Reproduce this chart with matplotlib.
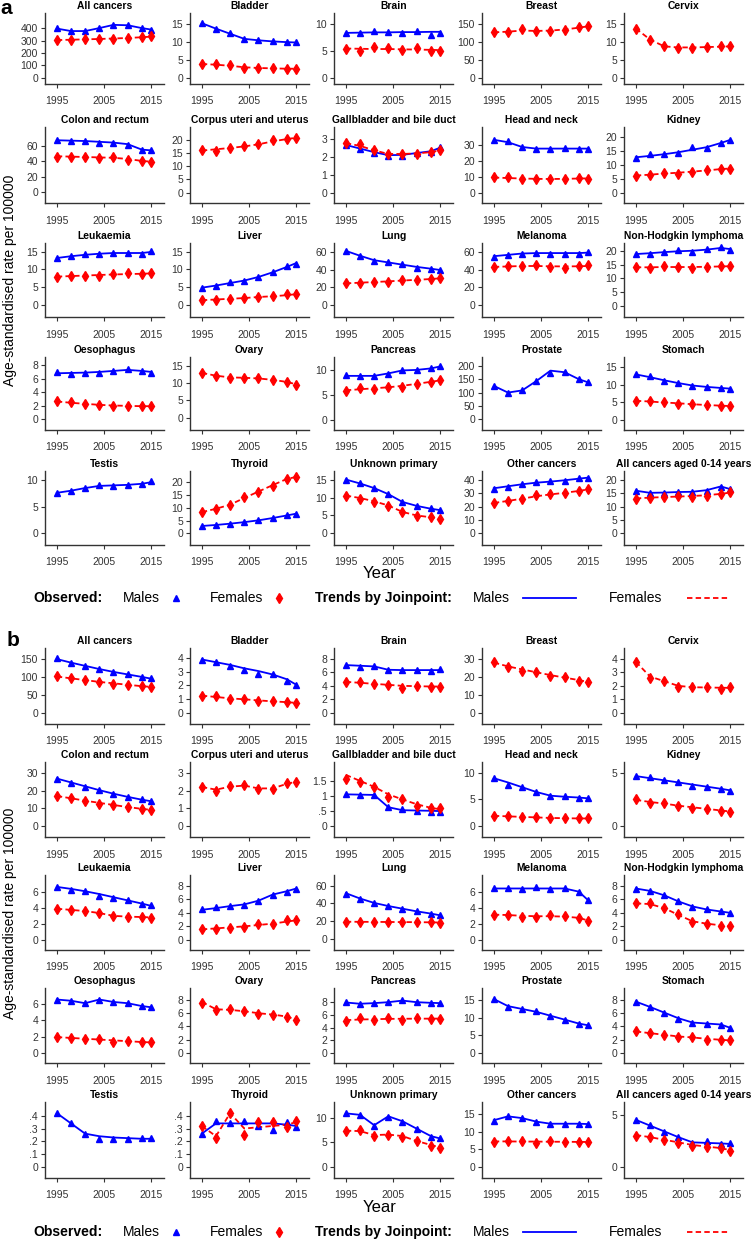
import matplotlib
matplotlib.use("Agg")
import matplotlib.pyplot as plt
from matplotlib.lines import Line2D

plt.rcParams['font.family'] = ['Liberation Sans', 'DejaVu Sans']

years = [1995, 1998, 2001, 2004, 2007, 2010, 2013, 2015]

sites = ["All cancers", "Bladder", "Brain", "Breast", "Cervix",
         "Colon and rectum", "Corpus uteri and uterus", "Gallbladder and bile duct", "Head and neck", "Kidney",
         "Leukaemia", "Liver", "Lung", "Melanoma", "Non-Hodgkin lymphoma",
         "Oesophagus", "Ovary", "Pancreas", "Prostate", "Stomach",
         "Testis", "Thyroid", "Unknown primary", "Other cancers", "All cancers aged 0-14 years"]

# ---- panel a : observed + joinpoint fitted, males
a_male_obs = [
    [400, 375, 375, 400, 430, 425, 400, 390],
    [15.2, 13.4, 12.4, 10.8, 10.4, 10.1, 10.0, 9.8],
    [8.4, 8.3, 8.7, 8.5, 8.4, 8.7, 8.0, 8.4],
    None, None,
    [67, 66, 66, 64, 64, 61, 54, 54],
    None,
    [2.65, 2.45, 2.2, 2.05, 2.05, 2.2, 2.25, 2.55],
    [33, 32, 28.5, 27.5, 27.3, 28, 27.5, 27.5],
    [12.5, 13.8, 13.8, 14.3, 16.2, 15.9, 17.8, 18.8],
    [13.2, 13.7, 14.3, 14.4, 14.7, 14.6, 14.3, 15.1],
    [4.9, 5.5, 6.4, 6.9, 8.0, 9.3, 10.9, 11.6],
    [61, 55, 50, 48, 46, 42, 41, 40],
    [54, 56, 58, 59, 58, 58, 58, 60],
    [18.8, 18.9, 19.7, 20.1, 19.7, 20.6, 21.5, 20.3],
    [7.0, 6.7, 6.9, 6.9, 7.2, 7.4, 7.1, 6.9],
    None,
    [8.9, 8.8, 8.7, 9.2, 9.9, 9.9, 10.3, 10.7],
    [125, 100, 108, 143, 175, 178, 152, 138],
    [13.0, 12.4, 11.2, 10.4, 9.6, 9.4, 9.2, 8.9],
    [7.6, 8.0, 8.6, 9.0, 8.9, 9.1, 9.3, 9.8],
    [2.8, 3.4, 3.7, 4.3, 5.1, 6.0, 7.2, 7.6],
    [15.0, 14.1, 12.6, 10.9, 8.8, 7.6, 7.0, 6.5],
    [33.5, 35, 37, 38.5, 39, 39.5, 41.5, 41.5],
    [16.0, 15.0, 15.2, 15.6, 15.5, 15.9, 17.3, 16.5],
]
a_male_fit = [
    [398, 378, 378, 402, 428, 425, 402, 390],
    [15.1, 13.6, 12.2, 10.8, 10.4, 10.1, 9.9, 9.8],
    [8.4, 8.45, 8.5, 8.5, 8.55, 8.55, 8.6, 8.6],
    None, None,
    [67, 66.5, 66, 65, 64, 62, 55, 54],
    None,
    [2.65, 2.45, 2.25, 2.08, 2.1, 2.2, 2.3, 2.5],
    [33, 31.5, 28.5, 27.5, 27.5, 27.5, 27.5, 27.5],
    [12.6, 13.1, 13.7, 14.4, 15.3, 16.2, 17.7, 18.8],
    [13.2, 13.7, 14.1, 14.4, 14.6, 14.6, 14.6, 14.9],
    [4.9, 5.5, 6.2, 6.9, 7.9, 9.2, 10.7, 11.8],
    [61, 55.5, 50.5, 48, 45.5, 43, 41, 39.5],
    [55, 56.5, 58, 58.5, 58.5, 58.5, 58.5, 59],
    [18.8, 19.1, 19.5, 19.8, 20.0, 20.4, 21.0, 20.6],
    [6.8, 6.85, 6.9, 7.0, 7.15, 7.3, 7.15, 7.0],
    None,
    [8.8, 8.8, 8.8, 9.3, 9.9, 10.0, 10.3, 10.7],
    [125, 100, 108, 143, 182, 176, 150, 138],
    [13.0, 12.2, 11.3, 10.5, 9.8, 9.4, 9.1, 8.9],
    [7.6, 8.0, 8.5, 8.9, 9.0, 9.1, 9.3, 9.6],
    [2.9, 3.3, 3.8, 4.4, 5.1, 6.0, 7.0, 7.7],
    [15.1, 14.0, 12.7, 11.0, 8.8, 7.7, 6.9, 6.5],
    [33.8, 35.3, 36.8, 38, 38.8, 39.8, 41, 41.8],
    [16.0, 15.2, 15.3, 15.5, 15.6, 16.2, 17.6, 16.6],
]
# panel a females
a_female_obs = [
    [305, 305, 315, 310, 315, 320, 330, 335],
    [3.8, 3.8, 3.6, 2.9, 2.7, 2.7, 2.6, 2.6],
    [5.4, 5.0, 5.7, 5.5, 5.3, 5.6, 5.1, 5.1],
    [127, 128, 135, 130, 131, 134, 141, 144],
    [13.7, 10.5, 8.8, 8.4, 8.4, 8.5, 8.9, 8.8],
    [46, 46, 45, 44, 45, 42, 40, 39],
    [16.2, 16.0, 17.0, 17.7, 18.4, 19.9, 20.5, 20.8],
    [2.75, 2.7, 2.35, 2.15, 2.15, 2.15, 2.25, 2.35],
    [9.5, 9.5, 8.8, 8.4, 8.2, 8.6, 9.0, 8.8],
    [6.1, 6.4, 6.9, 6.8, 7.4, 7.9, 8.6, 8.6],
    [8.0, 8.1, 8.3, 8.3, 8.6, 8.9, 8.7, 8.9],
    [1.4, 1.5, 1.8, 2.1, 2.3, 2.5, 3.0, 3.1],
    [24.5, 25, 25.5, 26.5, 28, 28.5, 29.5, 30.5],
    [42.5, 44, 44.5, 45.5, 43, 42, 43.5, 45],
    [14.1, 13.7, 14.3, 14.0, 13.8, 14.0, 14.4, 14.5],
    [2.7, 2.5, 2.3, 2.1, 1.95, 2.0, 1.95, 1.95],
    [12.9, 12.1, 11.4, 11.5, 11.4, 10.8, 10.4, 9.5],
    [5.8, 6.3, 6.2, 6.5, 6.6, 7.2, 7.6, 8.0],
    None,
    [5.4, 5.2, 5.0, 4.6, 4.5, 4.1, 4.0, 4.0],
    None,
    [8.5, 9.5, 11.2, 14.2, 16.0, 18.5, 21.0, 21.8],
    [10.5, 9.7, 8.9, 7.8, 5.9, 4.9, 4.7, 4.0],
    [22.5, 24.5, 25.5, 28.5, 29.5, 30, 32, 33],
    [13.0, 13.3, 13.7, 13.9, 13.8, 14.1, 14.8, 15.5],
]
a_female_fit = [
    [305, 308, 311, 314, 318, 322, 328, 333],
    [3.9, 3.7, 3.4, 3.0, 2.8, 2.7, 2.6, 2.6],
    [5.5, 5.45, 5.4, 5.4, 5.35, 5.3, 5.25, 5.2],
    [127, 129, 132, 131, 132, 135, 140, 144],
    [13.8, 10.7, 8.8, 8.5, 8.5, 8.6, 8.7, 8.8],
    [46.5, 46, 45.5, 45, 44.5, 43, 40.5, 39.5],
    [16.0, 16.5, 17.0, 17.6, 18.4, 19.5, 20.4, 20.9],
    [2.75, 2.6, 2.35, 2.15, 2.15, 2.18, 2.25, 2.35],
    [9.4, 9.1, 8.8, 8.6, 8.5, 8.6, 8.8, 8.9],
    [6.1, 6.4, 6.8, 7.1, 7.5, 7.9, 8.4, 8.6],
    [8.0, 8.15, 8.3, 8.45, 8.6, 8.7, 8.8, 8.9],
    [1.4, 1.6, 1.8, 2.0, 2.3, 2.5, 2.8, 3.1],
    [24.5, 25.3, 26, 26.8, 27.7, 28.5, 29.4, 30.2],
    [43, 43.5, 44, 44, 43.7, 43.5, 43.7, 44],
    [14.0, 14.0, 14.1, 14.1, 14.1, 14.2, 14.3, 14.4],
    [2.65, 2.45, 2.3, 2.15, 2.05, 2.0, 1.95, 1.95],
    [12.9, 12.1, 11.6, 11.5, 11.3, 10.9, 10.3, 9.6],
    [5.9, 6.1, 6.3, 6.5, 6.8, 7.2, 7.6, 7.9],
    None,
    [5.4, 5.2, 4.9, 4.7, 4.4, 4.2, 4.0, 3.9],
    None,
    [8.3, 9.6, 11.2, 13.8, 16.3, 18.8, 21.2, 22.0],
    [10.6, 9.9, 9.0, 7.8, 6.0, 5.0, 4.5, 4.1],
    [22.8, 24.3, 26, 27.8, 29.2, 30.4, 31.8, 33],
    [13.1, 13.4, 13.6, 13.8, 14.0, 14.3, 14.8, 15.3],
]

# ---- panel b : males
b_male_obs = [
    [152, 140, 130, 122, 113, 108, 100, 96],
    [3.85, 3.7, 3.45, 3.15, 2.8, 2.8, 2.35, 2.05],
    [7.1, 6.8, 7.0, 6.4, 6.3, 6.3, 6.2, 6.5],
    None, None,
    [26.5, 24.5, 22, 20.5, 18.2, 16.5, 15, 14],
    None,
    [1.05, 1.03, 1.02, 0.62, 0.55, 0.5, 0.47, 0.47],
    [9.0, 7.8, 7.3, 6.4, 5.6, 5.6, 5.3, 5.2],
    [4.7, 4.6, 4.3, 4.1, 3.8, 3.7, 3.5, 3.3],
    [6.7, 6.3, 6.2, 5.6, 5.3, 5.0, 4.5, 4.4],
    [4.5, 4.8, 5.0, 5.2, 5.8, 6.7, 7.1, 7.6],
    [51, 45, 40, 36.5, 34, 31, 28, 27],
    [6.6, 6.5, 6.4, 6.7, 6.4, 6.6, 6.0, 5.0],
    [7.6, 7.3, 6.6, 5.7, 4.9, 4.5, 4.2, 4.0],
    [6.5, 6.4, 6.1, 6.5, 6.3, 6.1, 5.7, 5.6],
    None,
    [8.1, 7.7, 7.9, 8.0, 8.4, 8.0, 7.9, 7.9],
    [15.3, 13.0, 12.4, 11.7, 10.3, 9.4, 8.1, 7.8],
    [7.7, 6.9, 6.1, 5.2, 4.5, 4.4, 4.3, 3.8],
    [0.42, 0.34, 0.26, 0.22, 0.22, 0.22, 0.23, 0.23],
    [0.26, 0.36, 0.34, 0.36, 0.32, 0.29, 0.35, 0.31],
    [11.0, 10.5, 8.4, 10.1, 9.2, 7.7, 6.1, 5.9],
    [13.2, 14.5, 13.9, 12.8, 12.2, 12.3, 12.2, 12.2],
    [4.5, 4.0, 3.3, 2.9, 2.3, 2.5, 2.2, 2.3],
]
b_male_fit = [
    [150, 140, 131, 122, 114, 107, 100, 95],
    [3.9, 3.7, 3.5, 3.25, 3.05, 2.8, 2.45, 2.05],
    [7.1, 7.0, 6.9, 6.4, 6.35, 6.35, 6.35, 6.35],
    None, None,
    [26.8, 24.6, 22.4, 20.2, 18.2, 16.4, 14.8, 13.9],
    None,
    [1.05, 1.04, 1.03, 0.62, 0.52, 0.51, 0.5, 0.49],
    [9.0, 8.2, 7.3, 6.4, 5.7, 5.5, 5.35, 5.2],
    [4.7, 4.5, 4.3, 4.1, 3.9, 3.7, 3.5, 3.35],
    [6.7, 6.45, 6.15, 5.8, 5.4, 5.0, 4.6, 4.3],
    [4.45, 4.7, 5.0, 5.25, 5.8, 6.7, 7.2, 7.6],
    [51.5, 45.5, 40.5, 37, 34, 31, 28.5, 26.5],
    [6.5, 6.5, 6.5, 6.5, 6.5, 6.5, 6.1, 5.0],
    [7.6, 7.25, 6.6, 5.7, 4.95, 4.5, 4.2, 4.0],
    [6.55, 6.4, 6.1, 6.55, 6.25, 6.1, 5.75, 5.6],
    None,
    [8.0, 7.8, 7.9, 8.05, 8.3, 8.05, 7.95, 7.9],
    [15.2, 13.2, 12.4, 11.6, 10.5, 9.4, 8.3, 7.8],
    [7.75, 6.95, 6.1, 5.25, 4.6, 4.45, 4.3, 3.8],
    [0.42, 0.34, 0.26, 0.24, 0.23, 0.225, 0.22, 0.22],
    [0.26, 0.34, 0.34, 0.34, 0.34, 0.34, 0.33, 0.32],
    [10.9, 10.6, 8.5, 10.3, 9.3, 7.8, 6.3, 5.8],
    [13.3, 14.4, 13.9, 12.9, 12.3, 12.3, 12.3, 12.2],
    [4.5, 3.95, 3.4, 2.85, 2.35, 2.3, 2.25, 2.2],
]
# panel b females
b_female_obs = [
    [102, 96, 91, 86, 81, 78, 74, 72],
    [1.2, 1.25, 0.98, 0.98, 0.85, 0.85, 0.75, 0.7],
    [4.6, 4.5, 4.3, 4.1, 3.7, 4.0, 3.9, 3.9],
    [28.2, 25.7, 23.5, 22.8, 20.5, 19.8, 17.8, 17.2],
    [3.75, 2.6, 2.4, 1.95, 1.9, 1.9, 1.8, 1.9],
    [16.8, 15.5, 14.2, 12.5, 11.8, 10.5, 9.5, 9.2],
    [2.2, 2.0, 2.25, 2.3, 2.1, 2.1, 2.4, 2.5],
    [1.55, 1.45, 1.28, 0.95, 0.9, 0.65, 0.58, 0.6],
    [1.9, 1.8, 1.7, 1.6, 1.4, 1.4, 1.4, 1.4],
    [2.5, 2.2, 2.2, 1.9, 1.7, 1.6, 1.4, 1.3],
    [3.9, 3.8, 3.7, 3.4, 3.0, 2.9, 2.9, 2.8],
    [1.6, 1.6, 1.7, 1.95, 2.3, 2.3, 2.9, 2.9],
    [19.5, 19, 19.5, 18.5, 19, 19, 18.5, 18],
    [3.2, 3.2, 2.9, 2.9, 3.1, 3.0, 2.8, 2.4],
    [5.4, 5.4, 4.7, 3.8, 2.7, 2.4, 2.1, 2.1],
    [2.0, 1.8, 1.7, 1.7, 1.4, 1.5, 1.3, 1.3],
    [7.6, 6.5, 6.6, 6.3, 5.9, 5.8, 5.5, 5.0],
    [5.1, 5.5, 5.2, 5.6, 5.3, 5.5, 5.4, 5.4],
    None,
    [3.3, 3.0, 2.7, 2.4, 2.4, 2.0, 2.0, 1.9],
    None,
    [0.32, 0.23, 0.42, 0.25, 0.35, 0.35, 0.31, 0.36],
    [7.4, 7.5, 6.3, 6.5, 6.2, 5.2, 4.3, 3.9],
    [7.2, 7.3, 7.4, 6.8, 7.4, 7.2, 7.0, 7.0],
    [3.0, 2.9, 2.6, 2.3, 2.0, 1.9, 1.8, 1.5],
]
b_female_fit = [
    [101, 96, 91, 86, 82, 78, 74, 72],
    [1.25, 1.15, 1.05, 0.98, 0.9, 0.83, 0.77, 0.72],
    [4.6, 4.45, 4.3, 4.15, 4.0, 3.95, 3.9, 3.9],
    [28, 25.9, 24.2, 22.6, 21, 19.6, 18.2, 17.2],
    [3.8, 2.7, 2.35, 2.0, 1.9, 1.88, 1.86, 1.85],
    [16.9, 15.6, 14.2, 13, 11.8, 10.6, 9.6, 9.0],
    [2.2, 2.05, 2.22, 2.28, 2.12, 2.12, 2.38, 2.5],
    [1.7, 1.5, 1.3, 1.05, 0.88, 0.72, 0.6, 0.55],
    [1.9, 1.8, 1.7, 1.6, 1.5, 1.45, 1.4, 1.4],
    [2.45, 2.25, 2.1, 1.9, 1.75, 1.6, 1.45, 1.35],
    [3.95, 3.8, 3.65, 3.4, 3.05, 2.95, 2.9, 2.85],
    [1.55, 1.7, 1.85, 2.0, 2.2, 2.4, 2.7, 2.9],
    [19.3, 19.2, 19.1, 19, 18.9, 18.8, 18.6, 18.4],
    [3.2, 3.15, 3.05, 3.0, 3.0, 2.95, 2.8, 2.45],
    [5.4, 5.3, 4.7, 3.7, 2.75, 2.4, 2.15, 2.05],
    [1.95, 1.85, 1.75, 1.65, 1.55, 1.45, 1.35, 1.3],
    [7.7, 6.6, 6.5, 6.3, 6.0, 5.8, 5.5, 5.0],
    [5.2, 5.3, 5.35, 5.4, 5.42, 5.43, 5.44, 5.45],
    None,
    [3.25, 3.0, 2.75, 2.5, 2.35, 2.15, 2.0, 1.9],
    None,
    [0.32, 0.24, 0.42, 0.30, 0.31, 0.32, 0.33, 0.35],
    [7.4, 7.3, 6.5, 6.6, 6.3, 5.3, 4.5, 4.0],
    [7.25, 7.25, 7.2, 7.2, 7.15, 7.15, 7.1, 7.1],
    [3.05, 2.85, 2.6, 2.35, 2.1, 1.95, 1.8, 1.6],
]

# y axis ticks and ranges
a_yticks = [[0, 100, 200, 300, 400], [0, 5, 10, 15], [0, 5, 10], [0, 50, 100, 150], [0, 5, 10, 15],
            [0, 20, 40, 60], [0, 5, 10, 15, 20], [0, 1, 2, 3], [0, 10, 20, 30], [0, 5, 10, 15, 20],
            [0, 5, 10, 15], [0, 5, 10, 15], [0, 20, 40, 60], [0, 20, 40, 60], [0, 5, 10, 15, 20],
            [0, 2, 4, 6, 8], [0, 5, 10, 15], [0, 5, 10], [0, 50, 100, 150, 200], [0, 5, 10, 15],
            [0, 5, 10], [0, 5, 10, 15, 20], [0, 5, 10, 15], [0, 10, 20, 30, 40], [0, 5, 10, 15, 20]]
a_ylims = [(-50, 524), (-1.6, 17.9), (-1.1, 12.1), (-17, 181), (-1.7, 18.1),
           (-13.5, 84), (-4, 25), (-0.58, 3.65), (-6.5, 41), (-3.7, 23.4),
           (-3.3, 17.4), (-3.3, 17.4), (-13.2, 69.8), (-13.2, 69.8), (-4, 22.8),
           (-1.56, 9.2), (-3.6, 17.5), (-2.1, 12.6), (-40, 233), (-3, 18),
           (-2.2, 11.7), (-4.5, 24.3), (-3.3, 17.5), (-8.75, 46.75), (-4.4, 23.4)]
b_yticks = [[0, 50, 100, 150], [0, 1, 2, 3, 4], [0, 2, 4, 6, 8], [0, 10, 20, 30], [0, 1, 2, 3, 4],
            [0, 10, 20, 30], [0, 1, 2, 3], [0, .5, 1, 1.5], [0, 5, 10], [0, 5],
            [0, 2, 4, 6], [0, 2, 4, 6, 8], [0, 20, 40, 60], [0, 2, 4, 6], [0, 2, 4, 6, 8],
            [0, 2, 4, 6], [0, 2, 4, 6, 8], [0, 2, 4, 6, 8], [0, 5, 10, 15], [0, 2, 4, 6, 8],
            [0, .1, .2, .3, .4], [0, .1, .2, .3, .4], [0, 5, 10], [0, 5, 10, 15], [0, 5]]
b_ylims = [(-32, 181), (-0.83, 4.74), (-1.7, 9.65), (-6.4, 36.2), (-0.85, 4.83),
           (-6.4, 36.2), (-0.64, 3.62), (-0.375, 2.13), (-2.1, 12.06), (-1.06, 6.03),
           (-1.26, 8.2), (-1.5, 9.6), (-12.6, 72), (-1.26, 8.2), (-1.5, 9.6),
           (-1.22, 7.96), (-1.5, 9.8), (-1.6, 10.3), (-2.8, 18.3), (-1.5, 9.8),
           (-0.086, 0.507), (-0.086, 0.507), (-2.2, 13.2), (-3.2, 18.5), (-1.05, 6.2)]

W, H = 755, 1240
fig = plt.figure(figsize=(W / 100, H / 100), dpi=100)

col_left = [45, 190, 334, 482, 624]
col_w = 119
rows_a = [(13, 84), (127, 203), (243, 317), (357, 430), (471, 545)]
rows_b = [(648, 724), (762, 837), (875, 950), (988, 1063), (1102, 1178)]

BLUE = "#0000ff"
RED = "#ff0000"
GREY = "#333333"


def fmt(v):
    s = "%g" % v
    if s.startswith("0."):
        s = s[1:]
    return s


def draw_panel(rows, m_obs, m_fit, f_obs, f_fit, yticks, ylims):
    for i, site in enumerate(sites):
        r, c = divmod(i, 5)
        top, bot = rows[r]
        ax = fig.add_axes([col_left[c] / W, 1 - bot / H, col_w / W, (bot - top) / H])
        if m_fit[i] is not None:
            ax.plot(years, m_fit[i], color=BLUE, lw=1.3, zorder=2)
        if f_fit[i] is not None:
            ax.plot(years, f_fit[i], color=RED, lw=1.3, dashes=(3, 1.8), zorder=2)
        if m_obs[i] is not None:
            ax.plot(years, m_obs[i], ls="none", marker="^", ms=4.6, color=BLUE, zorder=3)
        if f_obs[i] is not None:
            ax.plot(years, f_obs[i], ls="none", marker="d", ms=5, color=RED, zorder=3)
        ax.set_xlim(1992.5, 2017.7)
        ax.set_ylim(*ylims[i])
        ax.set_xticks([1995, 2005, 2015])
        ax.set_yticks(yticks[i])
        ax.set_yticklabels([fmt(v) for v in yticks[i]])
        ax.set_title(site, fontsize=7.4, fontweight="bold", pad=3)
        for s in ["top", "right"]:
            ax.spines[s].set_visible(False)
        for s in ["left", "bottom"]:
            ax.spines[s].set_color(GREY)
            ax.spines[s].set_linewidth(1.0)
        ax.tick_params(labelsize=7.5, colors=GREY, length=3, width=0.8, pad=2)
        ax.tick_params(axis="x", pad=6)


draw_panel(rows_a, a_male_obs, a_male_fit, a_female_obs, a_female_fit, a_yticks, a_ylims)
draw_panel(rows_b, b_male_obs, b_male_fit, b_female_obs, b_female_fit, b_yticks, b_ylims)

# panel letters, axis labels
fig.text(6 / W, 1 - 8 / H, "a", fontsize=15, fontweight="bold", ha="center", va="center")
fig.text(13 / W, 1 - 640 / H, "b", fontsize=15, fontweight="bold", ha="center", va="center")
for yc in [280, 913]:
    fig.text(10 / W, 1 - yc / H, "Age-standardised rate per 100000", fontsize=10,
             rotation=90, ha="center", va="center")
for yy in [573, 1207]:
    fig.text(380 / W, 1 - yy / H, "Year", fontsize=12, ha="center", va="center")


# legends
def legend_row(y):
    fy = 1 - y / H
    fig.text(33 / W, fy, "Observed:", fontsize=10, fontweight="bold", va="center")
    fig.text(123 / W, fy, "Males", fontsize=10, va="center")
    fig.add_artist(Line2D([176 / W], [fy], marker="^", ms=4.6, color=BLUE, ls="none",
                          transform=fig.transFigure))
    fig.text(210 / W, fy, "Females", fontsize=10, va="center")
    fig.add_artist(Line2D([279 / W], [fy], marker="d", ms=5, color=RED, ls="none",
                          transform=fig.transFigure))
    fig.text(315 / W, fy, "Trends by Joinpoint:", fontsize=10, fontweight="bold", va="center")
    fig.text(473 / W, fy, "Males", fontsize=10, va="center")
    fig.add_artist(Line2D([523 / W, 576 / W], [fy, fy], color=BLUE, lw=1.3,
                          transform=fig.transFigure))
    fig.text(609 / W, fy, "Females", fontsize=10, va="center")
    fig.add_artist(Line2D([687 / W, 729 / W], [fy, fy], color=RED, lw=1.3, dashes=(3, 1.8),
                          transform=fig.transFigure))


legend_row(598)
legend_row(1232)

fig.savefig("out.png", dpi=100)
